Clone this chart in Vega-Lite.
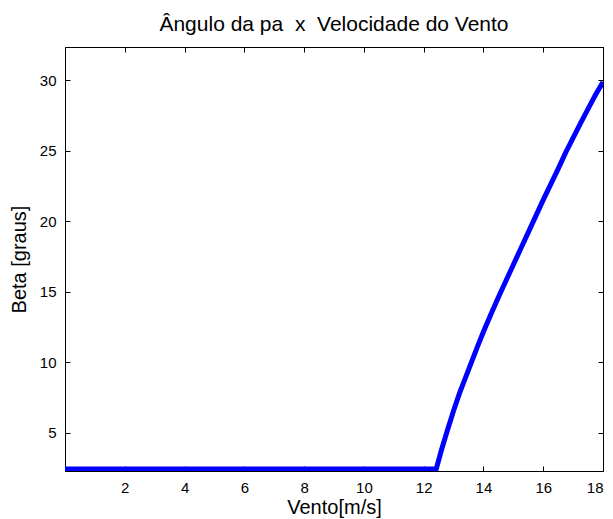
{
  "$schema": "https://vega.github.io/schema/vega-lite/v6.json",
  "width": 538,
  "height": 424,
  "autosize": {"type": "none"},
  "padding": {"left": 65, "top": 47, "right": 10, "bottom": 48},
  "background": "white",
  "config": {
    "font": "Liberation Sans",
    "view": {"stroke": "black", "strokeWidth": 1},
    "axis": {
      "grid": false,
      "domainColor": "black",
      "tickColor": "black",
      "tickWidth": 1,
      "labelColor": "black",
      "titleColor": "black",
      "labelFont": "Liberation Sans",
      "titleFont": "Liberation Sans",
      "labelFontSize": 15,
      "titleFontSize": 20,
      "titleFontWeight": "normal"
    }
  },
  "title": {
    "text": "Ângulo da pa\u00a0 x\u00a0 Velocidade do Vento",
    "font": "Liberation Sans",
    "fontSize": 21,
    "fontWeight": "normal",
    "color": "black",
    "offset": 12
  },
  "data": {
    "values": [
      {"vento": 0, "beta": 2.42},
      {"vento": 2, "beta": 2.42},
      {"vento": 4, "beta": 2.42},
      {"vento": 6, "beta": 2.42},
      {"vento": 8, "beta": 2.42},
      {"vento": 10, "beta": 2.42},
      {"vento": 12, "beta": 2.42},
      {"vento": 12.42, "beta": 2.42},
      {"vento": 12.6, "beta": 3.8},
      {"vento": 12.8, "beta": 5.2},
      {"vento": 13.0, "beta": 6.55},
      {"vento": 13.2, "beta": 7.8},
      {"vento": 13.4, "beta": 8.9},
      {"vento": 13.6, "beta": 10.0},
      {"vento": 13.8, "beta": 11.1},
      {"vento": 14.0, "beta": 12.15},
      {"vento": 14.25, "beta": 13.4},
      {"vento": 14.5, "beta": 14.6},
      {"vento": 14.75, "beta": 15.75},
      {"vento": 15.0, "beta": 16.9},
      {"vento": 15.25, "beta": 18.05},
      {"vento": 15.5, "beta": 19.2},
      {"vento": 15.75, "beta": 20.35},
      {"vento": 16.0, "beta": 21.5},
      {"vento": 16.25, "beta": 22.6},
      {"vento": 16.5, "beta": 23.7},
      {"vento": 16.75, "beta": 24.85},
      {"vento": 17.0, "beta": 25.9},
      {"vento": 17.25, "beta": 26.95},
      {"vento": 17.5, "beta": 27.95},
      {"vento": 17.75, "beta": 28.95},
      {"vento": 18.0, "beta": 29.85}
    ]
  },
  "layer": [
    {
      "mark": {"type": "line", "color": "#0000ff", "strokeWidth": 5, "clip": true},
      "encoding": {
        "x": {
          "field": "vento", "type": "quantitative",
          "scale": {"domain": [0, 18], "nice": false, "zero": false},
          "axis": {"orient": "bottom", "title": "Vento[m/s]", "values": [2, 4, 6, 8, 10, 12, 14, 16, 18], "tickSize": -5, "labelPadding": 14, "titlePadding": 2}
        },
        "y": {
          "field": "beta", "type": "quantitative",
          "scale": {"domain": [2.28, 32.34], "nice": false, "zero": false},
          "axis": {"orient": "left", "title": "Beta [graus]", "values": [5, 10, 15, 20, 25, 30], "tickSize": -5, "labelPadding": 14, "titlePadding": 10}
        }
      }
    },
    {
      "mark": {"type": "point", "opacity": 0},
      "encoding": {
        "x": {
          "field": "vento", "type": "quantitative",
          "scale": {"domain": [0, 18], "nice": false, "zero": false},
          "axis": {"orient": "top", "title": null, "labels": false, "values": [2, 4, 6, 8, 10, 12, 14, 16, 18], "tickSize": -5}
        },
        "y": {
          "field": "beta", "type": "quantitative",
          "scale": {"domain": [2.28, 32.34], "nice": false, "zero": false},
          "axis": {"orient": "right", "title": null, "labels": false, "values": [5, 10, 15, 20, 25, 30], "tickSize": -5}
        }
      }
    }
  ],
  "resolve": {"axis": {"x": "independent", "y": "independent"}}
}
